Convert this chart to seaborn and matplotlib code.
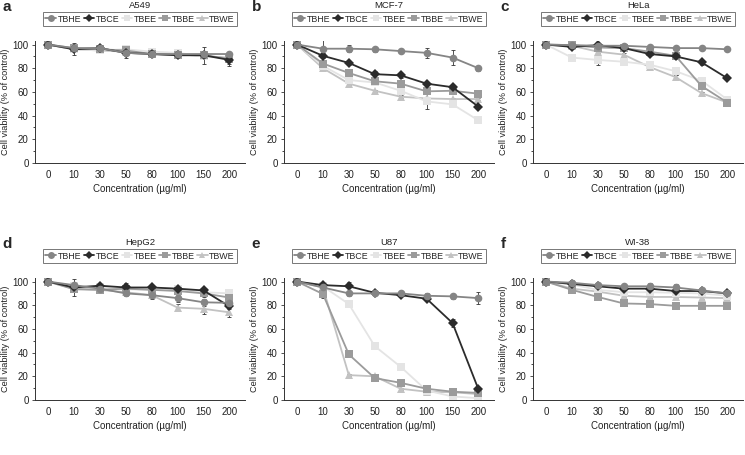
import numpy as np
import pandas as pd
import matplotlib
matplotlib.use("Agg")
import matplotlib.pyplot as plt
import seaborn as sns
from matplotlib.lines import Line2D
from matplotlib.ticker import MultipleLocator

sns.set_style("ticks")
plt.rcParams['font.family'] = ['Liberation Sans', 'DejaVu Sans']

# --- data ---
concentrations = ['0', '10', '30', '50', '80', '100', '150', '200']
extracts = ['TBHE', 'TBCE', 'TBEE', 'TBBE', 'TBWE']
cell_lines = ['A549', 'MCF-7', 'HeLa', 'HepG2', 'U87', 'WI-38']
panel_letters = ['a', 'b', 'c', 'd', 'e', 'f']

# mean viability (% of control), one list per extract
a549 = {
    'TBHE': [100, 97, 97, 93, 92, 92, 92, 92],
    'TBCE': [100, 96, 97, 93, 92, 91, 91, 87],
    'TBEE': [100, 96, 95, 96, 94, 93, 90, 88],
    'TBBE': [100, 97, 96, 95, 92, 91, 91, 88],
    'TBWE': [100, 96, 95, 94, 92, 92, 90, 89],
}
mcf7 = {
    'TBHE': [100, 96.5, 96.5, 96, 94.5, 93, 89, 80],
    'TBCE': [100, 90.5, 84.5, 75, 74, 67, 64, 47.5],
    'TBEE': [100, 82, 70, 68, 61, 52, 49.5, 36],
    'TBBE': [100, 84, 76, 69, 67, 60.5, 61, 58.5],
    'TBWE': [100, 80, 67, 61, 56, 54.5, 54, 54],
}
hela = {
    'TBHE': [100, 99.5, 99, 99, 98, 97, 97, 96],
    'TBCE': [100, 98, 99.5, 97, 92, 90, 85, 71.5],
    'TBEE': [100, 89, 87, 85.5, 83, 77.5, 69.5, 53.5],
    'TBBE': [100, 99.5, 97.5, 97, 94, 90.5, 65, 51],
    'TBWE': [100, 99, 94, 91.5, 81, 72.5, 59, 51],
}
hepg2 = {
    'TBHE': [100, 97, 94, 90, 88.5, 86, 82.5, 82],
    'TBCE': [100, 95, 96.5, 95, 95, 94, 92.5, 79],
    'TBEE': [100, 96, 95, 93.5, 93, 93.5, 91, 90],
    'TBBE': [100, 93.5, 93, 94, 93, 92, 90, 86.5],
    'TBWE': [100, 94, 93, 91, 88.5, 78, 77, 74],
}
u87 = {
    'TBHE': [100, 95, 90, 90, 90, 88, 87.5, 86],
    'TBCE': [100, 97, 96, 90.5, 88.5, 85.5, 65, 9],
    'TBEE': [100, 96, 81, 45.5, 28, 8, 3, 1.5],
    'TBBE': [100, 89.5, 38.5, 18.5, 14.5, 9.5, 7, 6],
    'TBWE': [100, 95, 21, 20, 9.5, 7, 6.5, 5],
}
wi38 = {
    'TBHE': [100, 99, 97, 96, 96, 95, 92.5, 90],
    'TBCE': [100, 98, 96, 94, 94, 92, 92, 90],
    'TBEE': [100, 97.5, 93, 91, 91, 90.5, 90, 88],
    'TBBE': [100, 93, 87, 81.5, 81, 79.5, 79.5, 79.5],
    'TBWE': [100, 94, 91.5, 88, 87, 87, 86.5, 86],
}

# error bars (SD)
a549_err = {
    'TBHE': [1, 2, 2, 2, 2, 2, 2, 2],
    'TBCE': [1, 5, 2, 4, 2, 2, 3, 3],
    'TBEE': [1, 2, 2, 2, 3, 2, 2, 2],
    'TBBE': [1, 3, 2, 2, 2, 2, 7, 6],
    'TBWE': [1, 2, 2, 2, 2, 2, 2, 2],
}
mcf7_err = {
    'TBHE': [1, 7, 3, 2, 1, 4, 6, 2],
    'TBCE': [1, 2, 2, 3, 2, 1, 1, 1],
    'TBEE': [1, 2, 2, 2, 2, 6, 2, 2],
    'TBBE': [1, 2, 2, 3, 2, 2, 2, 1],
    'TBWE': [1, 1, 1, 1, 1, 1, 1, 1],
}
hela_err = {
    'TBHE': [1, 1, 1, 1, 1, 1, 1, 1],
    'TBCE': [1, 1, 1, 1, 1, 1, 2, 1],
    'TBEE': [1, 2, 4, 1, 2, 3, 1, 1],
    'TBBE': [1, 1, 1, 1, 1, 1, 1, 1],
    'TBWE': [1, 1, 1, 1, 1, 2, 1, 1],
}
hepg2_err = {
    'TBHE': [1, 3, 2, 2, 2, 3, 3, 3],
    'TBCE': [1, 7, 2, 2, 2, 2, 2, 2],
    'TBEE': [1, 2, 2, 2, 2, 2, 2, 3],
    'TBBE': [1, 2, 2, 5, 3, 4, 3, 4],
    'TBWE': [1, 2, 2, 2, 3, 3, 4, 4],
}
u87_err = {
    'TBHE': [1, 2, 2, 1, 2, 2, 2, 5],
    'TBCE': [1, 2, 4, 1, 1, 2, 3, 1],
    'TBEE': [1, 1, 2, 2, 3, 1, 1, 1],
    'TBBE': [1, 3, 1, 1, 1, 1, 1, 1],
    'TBWE': [1, 1, 1, 1, 1, 1, 1, 1],
}
wi38_err = {
    'TBHE': [1, 2, 1, 2, 3, 3, 1, 1],
    'TBCE': [1, 1, 1, 1, 1, 1, 1, 1],
    'TBEE': [1, 1, 1, 1, 1, 1, 1, 1],
    'TBBE': [1, 1, 1, 1, 1, 1, 1, 1],
    'TBWE': [1, 1, 1, 1, 1, 1, 1, 1],
}

panel_data = [a549, mcf7, hela, hepg2, u87, wi38]
panel_err = [a549_err, mcf7_err, hela_err, hepg2_err, u87_err, wi38_err]

# --- styles ---
palette = {'TBHE': '#858585', 'TBCE': '#2b2b2b', 'TBEE': '#e4e4e4',
           'TBBE': '#9b9b9b', 'TBWE': '#c2c2c2'}
markers = {'TBHE': 'o', 'TBCE': 'D', 'TBEE': 's', 'TBBE': 's', 'TBWE': '^'}
msizes = {'TBHE': 5.5, 'TBCE': 5, 'TBEE': 5.5, 'TBBE': 5.5, 'TBWE': 5.5}
draw_order = ['TBWE', 'TBEE', 'TBBE', 'TBCE', 'TBHE']

fig = plt.figure(figsize=(7.45, 4.55), dpi=100)
W, H = 745, 455
lefts = [35, 284, 533]
bottoms = [163, 400]
ax_w, ax_h = 210, 122

x_pos = np.arange(len(concentrations))

for i, (name, letter) in enumerate(zip(cell_lines, panel_letters)):
    row, col = divmod(i, 3)
    ax = fig.add_axes([lefts[col] / W, (H - bottoms[row]) / H, ax_w / W, ax_h / H])
    vals = panel_data[i]
    errs = panel_err[i]

    df = pd.DataFrame([
        {'pos': x_pos[j], 'viability': vals[e][j], 'extract': e}
        for e in draw_order for j in range(len(concentrations))
    ])
    for e in draw_order:
        sub = df[df['extract'] == e]
        ax.errorbar(sub['pos'], sub['viability'], yerr=errs[e], fmt='none',
                    ecolor='#333333', elinewidth=0.6, capsize=1.5, capthick=0.6,
                    zorder=1)
        sns.lineplot(data=sub, x='pos', y='viability', color=palette[e],
                     marker=markers[e], markersize=msizes[e], markeredgewidth=0,
                     linewidth=1.3, ax=ax, legend=False, zorder=2)

    ax.set_xlim(-0.5, len(concentrations) - 0.4)
    ax.set_ylim(0, 103)
    ax.set_xticks(x_pos)
    ax.set_xticklabels(concentrations)
    ax.set_yticks([0, 20, 40, 60, 80, 100])
    ax.yaxis.set_minor_locator(MultipleLocator(10))
    ax.tick_params(axis='both', labelsize=7, length=2.5, width=0.6, pad=2,
                   colors='#333333', labelcolor='#222222')
    ax.tick_params(axis='y', which='minor', length=1.5, width=0.6)
    ax.tick_params(axis='x', length=0, pad=5)
    for s in ['top', 'right']:
        ax.spines[s].set_visible(False)
    for s in ['left', 'bottom']:
        ax.spines[s].set_linewidth(0.7)
        ax.spines[s].set_color('#333333')

    ax.set_xlabel('Concentration (µg/ml)', fontsize=7, labelpad=3, color='#222222')
    ax.set_ylabel('Cell viability (% of control)', fontsize=6.6, labelpad=2,
                  color='#222222')

    ax.text(0.5, 1.29, name, transform=ax.transAxes, ha='center', va='center',
            fontsize=6.8, color='#222222')
    ax.text(-0.155, 1.28, letter, transform=ax.transAxes, ha='left', va='center',
            fontsize=11, fontweight='bold')

    handles = [Line2D([], [], color=palette[e], marker=markers[e],
                      markersize=msizes[e] - 0.5, markeredgewidth=0, linewidth=1.3)
               for e in extracts]
    leg = ax.legend(handles, extracts, loc='center', bbox_to_anchor=(0.5, 1.18),
                    ncol=5, fontsize=6.4, frameon=True, fancybox=False,
                    handlelength=1.2, handletextpad=0.15, columnspacing=0.3,
                    borderpad=0.3, borderaxespad=0)
    leg.get_frame().set_edgecolor('#555555')
    leg.get_frame().set_linewidth(0.7)

fig.savefig('out.png', dpi=100)
